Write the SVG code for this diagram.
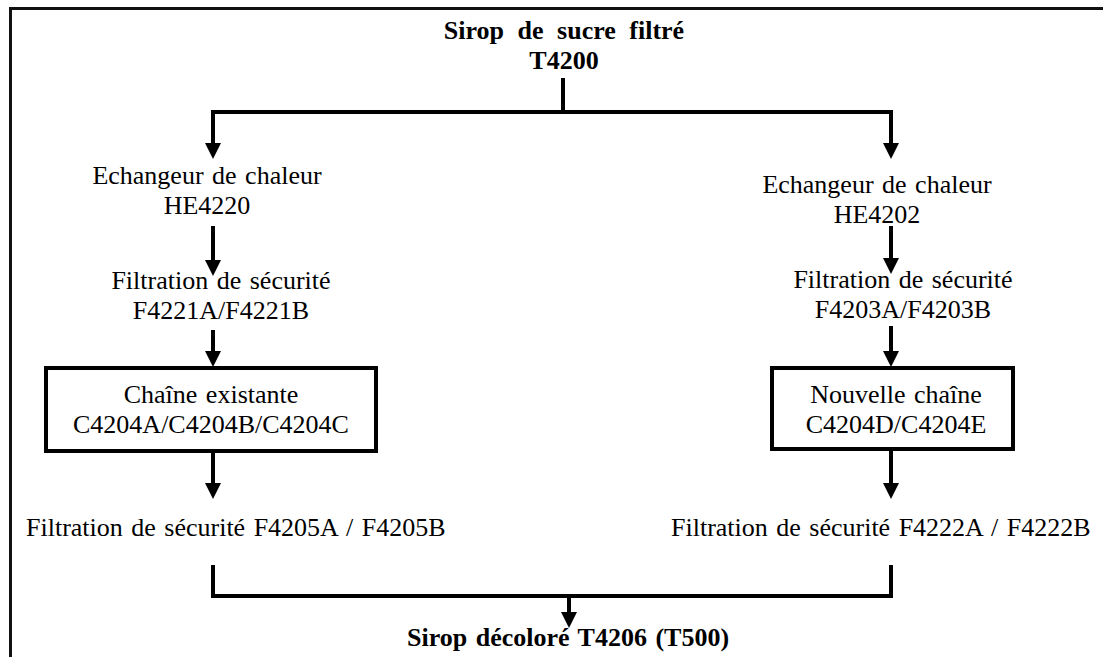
<svg xmlns="http://www.w3.org/2000/svg" width="1103" height="657" viewBox="0 0 1103 657">
  <style>
    text { font-family: "Liberation Serif", "Times New Roman", serif; font-size: 26px; fill: #000; text-anchor: middle; word-spacing: 2px; }
    .b { font-weight: bold; }
    .title { word-spacing: 7px; }
    .l { text-anchor: start; }
    .frame { fill: none; stroke: #111; stroke-width: 3; }
    .box { fill: #fff; stroke: #000; stroke-width: 4; }
    .wire { fill: none; stroke: #000; stroke-width: 4; stroke-linejoin: miter; stroke-linecap: butt; }
    .arrow { fill: none; stroke: #000; stroke-width: 4; marker-end: url(#head); }
  </style>
  <defs>
    <marker id="head" markerUnits="userSpaceOnUse" markerWidth="16" markerHeight="16" viewBox="0 0 16 16" refX="8" refY="8" orient="auto">
      <path d="M0,0 L16,8 L0,16 z" fill="#000"/>
    </marker>
  </defs>

  <rect width="1103" height="657" fill="#fff"/>
  <!-- page frame (top and left edges only) -->
  <path class="frame" d="M10.5,657 V8.5 H1103"/>

  <!-- connectors -->
  <g id="connectors">
    <path class="wire" d="M563,78 V112"/>
    <path class="wire" d="M213,112 H891"/>
    <path class="arrow" d="M213,110 V151"/>
    <path class="arrow" d="M891,110 V151"/>
    <path class="arrow" d="M213,226 V268"/>
    <path class="arrow" d="M891,226 V266"/>
    <path class="arrow" d="M213,330 V359"/>
    <path class="arrow" d="M891,326 V359"/>
    <path class="arrow" d="M213,453 V491"/>
    <path class="arrow" d="M891,451 V491"/>
    <path class="wire" d="M213,565 V596 H891 V565"/>
    <path class="arrow" d="M569,596 V620"/>
  </g>

  <g id="source">
    <text class="b title" x="564" y="39">Sirop de sucre filtré</text>
    <text class="b" x="564" y="69">T4200</text>
  </g>

  <g id="he4220">
    <text x="207" y="184">Echangeur de chaleur</text>
    <text x="207" y="214">HE4220</text>
  </g>
  <g id="f4221">
    <text x="221" y="289">Filtration de sécurité</text>
    <text x="221" y="319">F4221A/F4221B</text>
  </g>
  <g id="chaine-existante">
    <rect class="box" x="46" y="368" width="330" height="83"/>
    <text x="211" y="403">Chaîne existante</text>
    <text x="211" y="433">C4204A/C4204B/C4204C</text>
  </g>
  <g id="f4205">
    <text class="l" x="26" y="536">Filtration de sécurité F4205A / F4205B</text>
  </g>

  <g id="he4202">
    <text x="877" y="193">Echangeur de chaleur</text>
    <text x="877" y="223">HE4202</text>
  </g>
  <g id="f4203">
    <text x="903" y="288">Filtration de sécurité</text>
    <text x="903" y="318">F4203A/F4203B</text>
  </g>
  <g id="nouvelle-chaine">
    <rect class="box" x="772" y="368" width="241" height="81"/>
    <text x="896" y="403">Nouvelle chaîne</text>
    <text x="896" y="433">C4204D/C4204E</text>
  </g>
  <g id="f4222">
    <text class="l" x="671" y="536">Filtration de sécurité F4222A / F4222B</text>
  </g>

  <g id="sortie">
    <text class="b" x="568" y="646">Sirop décoloré T4206 (T500)</text>
  </g>
</svg>
